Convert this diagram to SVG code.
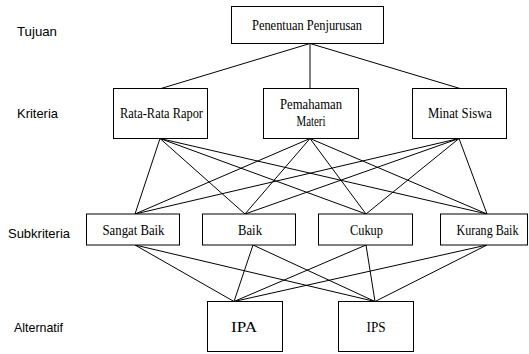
<svg xmlns="http://www.w3.org/2000/svg" width="529" height="354" viewBox="0 0 529 354">
<style>
.box{fill:#fff;stroke:#000;stroke-width:1}
.c line{stroke:#000;stroke-width:1}
.t{font-family:"Liberation Serif","Times New Roman",serif;font-size:14px;fill:#000;text-anchor:middle}
.lbl{font-family:"Liberation Sans",Arial,sans-serif;font-size:13px;fill:#000}
</style>
<rect width="529" height="354" fill="#fff"/>
<g id="levels">
<text class="lbl" x="17" y="36" textLength="40" lengthAdjust="spacingAndGlyphs">Tujuan</text>
<text class="lbl" x="17" y="118" textLength="41" lengthAdjust="spacingAndGlyphs">Kriteria</text>
<text class="lbl" x="8" y="238" textLength="62" lengthAdjust="spacingAndGlyphs">Subkriteria</text>
<text class="lbl" x="14" y="332" textLength="49" lengthAdjust="spacingAndGlyphs">Alternatif</text>
</g>
<g class="c" id="connectors">
<line x1="310" y1="43.5" x2="161" y2="88.5"/>
<line x1="310" y1="43.5" x2="310" y2="88.5"/>
<line x1="310" y1="43.5" x2="460" y2="88.5"/>
<line x1="160" y1="138.5" x2="135" y2="214"/>
<line x1="160" y1="138.5" x2="245" y2="214"/>
<line x1="160" y1="138.5" x2="366" y2="214"/>
<line x1="160" y1="138.5" x2="487" y2="214"/>
<line x1="310" y1="138.5" x2="135" y2="214"/>
<line x1="310" y1="138.5" x2="245" y2="214"/>
<line x1="310" y1="138.5" x2="366" y2="214"/>
<line x1="310" y1="138.5" x2="487" y2="214"/>
<line x1="459" y1="138.5" x2="135" y2="214"/>
<line x1="459" y1="138.5" x2="245" y2="214"/>
<line x1="459" y1="138.5" x2="366" y2="214"/>
<line x1="459" y1="138.5" x2="487" y2="214"/>
<line x1="135" y1="245" x2="234" y2="301.5"/>
<line x1="135" y1="245" x2="375" y2="301.5"/>
<line x1="253" y1="245" x2="234" y2="301.5"/>
<line x1="253" y1="245" x2="375" y2="301.5"/>
<line x1="366" y1="245" x2="234" y2="301.5"/>
<line x1="366" y1="245" x2="375" y2="301.5"/>
<line x1="487" y1="245" x2="234" y2="301.5"/>
<line x1="487" y1="245" x2="375" y2="301.5"/>
</g>
<g id="penentuan">
<rect class="box" x="231.5" y="6.5" width="152" height="37"/>
<text class="t" x="307" y="30" textLength="110" lengthAdjust="spacingAndGlyphs">Penentuan Penjurusan</text>
</g>
<g id="rata">
<rect class="box" x="113.5" y="88.5" width="94" height="50"/>
<text class="t" x="161.5" y="118" textLength="83" lengthAdjust="spacingAndGlyphs">Rata-Rata Rapor</text>
</g>
<g id="pemahaman">
<rect class="box" x="263.5" y="88.5" width="95" height="50"/>
<text class="t" x="311" y="109" textLength="62" lengthAdjust="spacingAndGlyphs">Pemahaman</text>
<text class="t" x="311" y="126" textLength="29" lengthAdjust="spacingAndGlyphs">Materi</text>
</g>
<g id="minat">
<rect class="box" x="412.5" y="88.5" width="94" height="50"/>
<text class="t" x="460" y="118" textLength="64" lengthAdjust="spacingAndGlyphs">Minat Siswa</text>
</g>
<g id="sangatbaik">
<rect class="box" x="86.5" y="214" width="93" height="31"/>
<text class="t" x="133.5" y="234.5" textLength="62" lengthAdjust="spacingAndGlyphs">Sangat Baik</text>
</g>
<g id="baik">
<rect class="box" x="202.5" y="214" width="93" height="31"/>
<text class="t" x="250" y="234.5" textLength="24" lengthAdjust="spacingAndGlyphs">Baik</text>
</g>
<g id="cukup">
<rect class="box" x="318.5" y="214" width="94" height="31"/>
<text class="t" x="366.5" y="234.5" textLength="33" lengthAdjust="spacingAndGlyphs">Cukup</text>
</g>
<g id="kurangbaik">
<rect class="box" x="440.5" y="214" width="87" height="31"/>
<text class="t" x="487.5" y="234.5" textLength="62" lengthAdjust="spacingAndGlyphs">Kurang Baik</text>
</g>
<g id="ipa">
<rect class="box" x="207.5" y="301.5" width="75" height="50"/>
<text class="t" x="244" y="332" textLength="26" lengthAdjust="spacingAndGlyphs">IPA</text>
</g>
<g id="ips">
<rect class="box" x="338.5" y="301.5" width="75" height="50"/>
<text class="t" x="376" y="332" textLength="19" lengthAdjust="spacingAndGlyphs">IPS</text>
</g>
</svg>
